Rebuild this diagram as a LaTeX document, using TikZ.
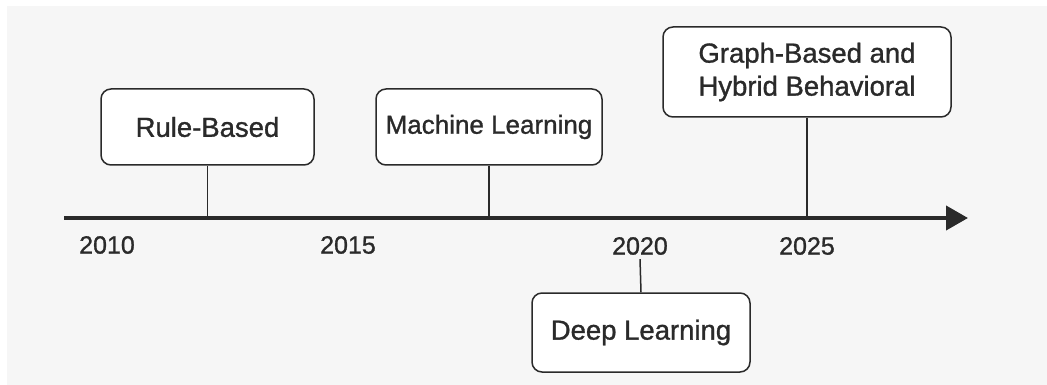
\documentclass[tikz,border=0pt]{standalone}
\usepackage{fontspec}
\setmainfont{Liberation Sans}[BoldFont={Liberation Sans}, BoldFeatures={FakeBold=1.1}]
\usepackage{xcolor}
\usetikzlibrary{arrows.meta, positioning}
\definecolor{fondo}{HTML}{F6F6F6}
\definecolor{trazo}{HTML}{2A2A2A}

\begin{document}
\begin{tikzpicture}[x=1pt, y=-1pt,
  era/.style={draw=trazo, line width=1.5pt, fill=white, rounded corners=10pt,
    align=center, font=\fontsize{27.5}{33}\bfseries, text=trazo, inner sep=0pt},
  anio/.style={font=\fontsize{25}{28}\bfseries, text=trazo, inner sep=0pt},
  poste/.style={draw=trazo, line width=1.5pt}]
% Fondo
\useasboundingbox (0,0) rectangle (1047,385);
\fill[fondo] (7,6) rectangle (1047,385);
% Eje
\coordinate (ini) at (64,218);
\coordinate (fin) at (968,218);
\draw[trazo, line width=4pt, -{Triangle[length=22pt, width=24pt]}] (ini) -- (fin);
% Anios
\node[anio] (a2010) at (107,245) {2010};
\node[anio] (a2015) at (348,245) {2015};
\node[anio] (a2020) at (640,246) {2020};
\node[anio] (a2025) at (807,246) {2025};
% Etapas
\node[era, minimum width=213pt, minimum height=76pt] (rule) at (207.5,127) {Rule-Based};
\node[era, minimum width=226pt, minimum height=76pt, font=\fontsize{26}{33}\bfseries] (ml) at (489,127) {Machine Learning};
\node[era, minimum width=288pt, minimum height=90pt] (graph) at (807,72) {Graph-Based and\\Hybrid Behavioral};
\node[era, minimum width=218pt, minimum height=79pt] (deep) at (641,332.5) {Deep Learning};
% Postes
\path[poste]
(rule.south) edge (rule.south |- ini)
(ml.south) edge (ml.south |- ini)
(graph.south) edge (graph.south |- ini)
([yshift=-4pt]a2020.south) edge (deep.north);
\end{tikzpicture}
\end{document}
